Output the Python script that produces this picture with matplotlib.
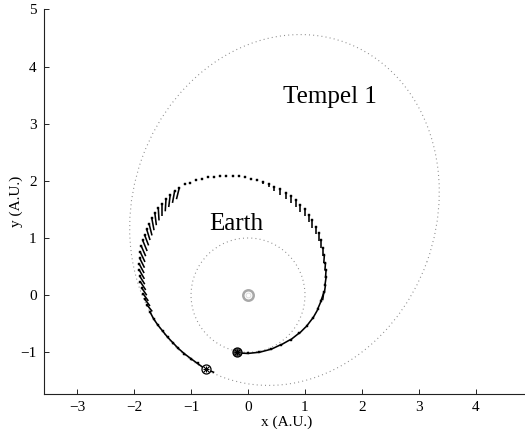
import numpy as np
import matplotlib
matplotlib.use('Agg')
import matplotlib.pyplot as plt
from matplotlib.patches import Ellipse, Circle
from matplotlib.collections import LineCollection

# ---------------- data ----------------
# spacecraft trajectory sample points (A.U.)
traj_x = [-0.20, 0.00, 0.20, 0.40, 0.58, 0.75, 0.90, 1.03, 1.14, 1.22, 1.28,
          1.33, 1.36, 1.37, 1.37, 1.36, 1.34, 1.31, 1.28, 1.24, 1.19, 1.13, 1.07,
          1.00, 0.92, 0.84, 0.75, 0.66, 0.56, 0.46, 0.36, 0.26,
          0.16, 0.06, -0.05, -0.16, -0.27, -0.38, -0.49, -0.60, -0.71, -0.81,
          -0.92, -1.02, -1.11,
          -1.205, -1.288, -1.366, -1.440, -1.510, -1.575, -1.635, -1.688, -1.737,
          -1.780, -1.817, -1.848, -1.873, -1.891, -1.903, -1.910, -1.909, -1.902,
          -1.889, -1.869, -1.844, -1.812, -1.775,
          -1.721, -1.659, -1.583, -1.499, -1.413, -1.319, -1.223, -1.117, -1.003,
          -0.886, -0.763]
traj_y = [-1.01, -1.02, -1.00, -0.95, -0.87, -0.78, -0.67, -0.54, -0.40, -0.25, -0.10,
          0.05, 0.18, 0.31, 0.44, 0.57, 0.70, 0.83, 0.96, 1.08, 1.20, 1.31, 1.41,
          1.50, 1.58, 1.66, 1.73, 1.79, 1.85, 1.90, 1.94, 1.98,
          2.01, 2.04, 2.06, 2.08, 2.09, 2.09, 2.09, 2.07, 2.06, 2.04,
          2.01, 1.97, 1.94,
          1.883, 1.820, 1.750, 1.677, 1.599, 1.517, 1.432, 1.342, 1.249,
          1.155, 1.057, 0.957, 0.856, 0.753, 0.649, 0.545, 0.440, 0.336,
          0.233, 0.130, 0.028, -0.071, -0.169,
          -0.292, -0.412, -0.523, -0.628, -0.734, -0.833, -0.933, -1.025, -1.111,
          -1.196, -1.284]
# thrust vectors drawn from each trajectory point (A.U.)
thrust_dx = [0.19, 0.19, 0.19, 0.17, 0.16, 0.14, 0.12, 0.10, 0.08, 0.06, 0.05,
             -0.02, -0.02, -0.02, -0.01, -0.01, -0.01, 0.00, 0.00, 0.00, 0.00, 0.00, 0.00,
             0.00, 0.00, 0.00, 0.00, 0.00, 0.00, 0.00, 0.00, 0.00,
             0, 0, 0, 0, 0, 0, 0, 0, 0, 0, 0, 0, 0,
             -0.051, -0.038, -0.026, -0.013, 0.000, 0.013, 0.026, 0.038, 0.051,
             0.060, 0.072, 0.077, 0.077, 0.082, 0.086, 0.086, 0.090, 0.089,
             0.093, 0.091, 0.094, 0.091, 0.094,
             0.062, 0.076, 0.084, 0.086, 0.094, 0.096, 0.106, 0.114, 0.117,
             0.123, 0.170]
thrust_dy = [-0.01, 0.02, 0.05, 0.08, 0.09, 0.11, 0.12, 0.13, 0.14, 0.14, 0.14,
             -0.14, -0.14, -0.14, -0.14, -0.14, -0.14, -0.14, -0.14, -0.13, -0.13, -0.13, -0.13,
             -0.12, -0.12, -0.12, -0.11, -0.10, -0.09, -0.07, -0.05, -0.04,
             0, 0, 0, 0, 0, 0, 0, 0, 0, 0, 0, 0, 0,
             -0.204, -0.206, -0.208, -0.210, -0.210, -0.210, -0.208, -0.206, -0.204,
             -0.191, -0.187, -0.185, -0.174, -0.172, -0.169, -0.158, -0.156, -0.145,
             -0.143, -0.132, -0.129, -0.119, -0.117,
             -0.120, -0.111, -0.105, -0.106, -0.099, -0.100, -0.092, -0.086, -0.085,
             -0.088, -0.070]

departure = (-0.20, -0.99)
arrival = (-0.73, -1.30)
sun = (0.0, 0.0)
earth_orbit_radius = 1.0
# Tempel 1 orbit ellipse: centre, semi-major, semi-minor, orientation (deg)
tempel_center = (0.64, 1.49)
tempel_a = 3.12
tempel_b = 2.66
tempel_angle = 70.0

x_ticks = [-3, -2, -1, 0, 1, 2, 3, 4]
y_ticks = [-1, 0, 1, 2, 3, 4, 5]

# ---------------- figure ----------------
plt.rcParams['font.family'] = ['Liberation Serif', 'DejaVu Serif']
plt.rcParams['lines.scale_dashes'] = False

fig = plt.figure(figsize=(5.25, 4.3), dpi=100)
ax = fig.add_axes([43.5 / 525, 36 / 430, 486.5 / 525, 384.6 / 430])

dotted = (0, (0.7, 2.3))
ax.add_patch(Circle(sun, earth_orbit_radius, fill=False, ec='#8a8a8a',
                    lw=0.8, ls=dotted))
ax.add_patch(Ellipse(tempel_center, 2 * tempel_a, 2 * tempel_b, angle=tempel_angle,
                     fill=False, ec='#8a8a8a', lw=0.8, ls=dotted))

tx = np.array(traj_x)
ty = np.array(traj_y)
dx = np.array(thrust_dx)
dy = np.array(thrust_dy)
segs = [[(x0, y0), (x0 + a, y0 + b)] for x0, y0, a, b in zip(tx, ty, dx, dy)
        if (a != 0 or b != 0)]
ax.add_collection(LineCollection(segs, colors='k', linewidths=1.15,
                                 capstyle='butt'))
ax.plot(tx, ty, ls='none', marker='s', ms=2.0, mfc='k', mec='k', mew=0.3)

# sun
ax.plot(*sun, marker='o', ms=7.5, mfc='white', mec='#a8a8a8', mew=1.8)
ax.plot(*sun, marker='o', ms=3.5, mfc='white', mec='#d8d8d8', mew=0.6)

# Earth at departure / arrival
for pt, face in ((departure, '#505050'), (arrival, 'white')):
    ax.plot(*pt, marker='o', ms=6.5, mfc=face, mec='k', mew=0.9)
    ax.plot(*pt, marker='x', ms=4.2, color='k', mew=0.8)
    ax.plot(*pt, marker='+', ms=4.8, color='k', mew=0.8)

ax.text(1.43, 3.47, 'Tempel 1', fontsize=18, ha='center', va='center')
ax.text(-0.21, 1.24, 'Earth', fontsize=18, ha='center', va='center')

ax.set_xlim(-3.59, 4.95)
ax.set_ylim(-1.73, 5.0)
ax.set_xticks(x_ticks)
ax.set_yticks(y_ticks)
ax.tick_params(direction='in', length=3.5, width=0.6, labelsize=11, pad=5)
ax.set_xlabel('x (A.U.)', fontsize=11, labelpad=1)
ax.set_ylabel('y (A.U.)', fontsize=11, labelpad=-2)
for s in ('top', 'right'):
    ax.spines[s].set_visible(False)
for s in ('left', 'bottom'):
    ax.spines[s].set_linewidth(0.8)
    ax.spines[s].set_color('#222222')

fig.savefig('out.png', dpi=100)
